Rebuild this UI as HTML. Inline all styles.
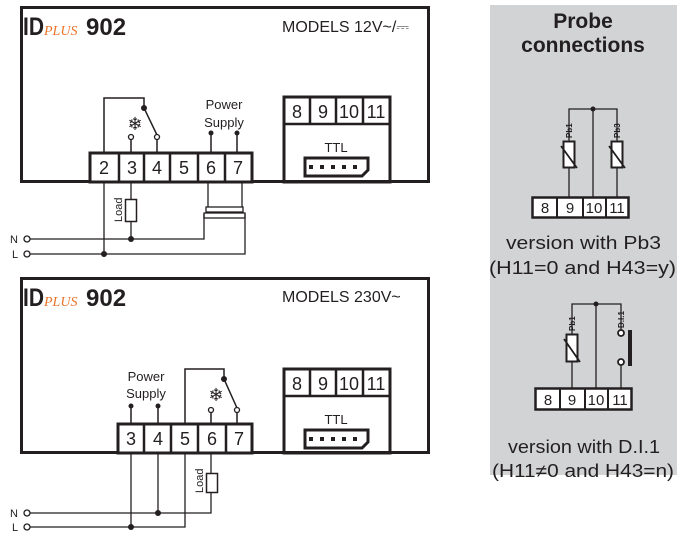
<!DOCTYPE html>
<html><head><style>
body{margin:0;background:#fff}
svg{display:block}
text{font-family:"Liberation Sans",sans-serif;fill:#231f20}
</style></head><body>
<svg width="696" height="541" viewBox="0 0 696 541" xmlns="http://www.w3.org/2000/svg">
<g stroke="#231f20" fill="none">
<rect x="21.5" y="7.5" width="407" height="174" stroke-width="3"/>
<rect x="90" y="153" width="162" height="29" stroke-width="3" fill="#fff"/>
<path d="M119 153V182M144 153V182M170 153V182M198 153V182M225 153V182" stroke-width="2.5"/>
<rect x="284" y="97" width="106" height="85" stroke-width="3"/>
<path d="M284 124H390M310 97V124M336 97V124M363 97V124" stroke-width="2.5"/>
<path d="M305 158H368V170L362 176H305Z" stroke-width="3"/>
<path d="M104 152V98H144V108L157 135M131 152V139M157 152V139M211 152V133M237 152V133" stroke-width="1.5"/>
<circle cx="131" cy="137" r="2.5" stroke-width="1.3" fill="#fff"/>
<circle cx="157" cy="137" r="2.5" stroke-width="1.3" fill="#fff"/>
<path d="M104 182V254M131 182V199M131 222V239M25 239H204V214M25 254H245V214M208 182V207M242 182V207" stroke-width="1.3"/>
<rect x="125.5" y="199.5" width="11" height="22" stroke-width="1.5"/>
<rect x="206" y="207" width="37" height="5" stroke-width="1.3"/>
<rect x="204" y="213" width="41" height="5" stroke-width="1.3"/>
<circle cx="27" cy="239" r="3" stroke-width="1.3" fill="#fff"/>
<circle cx="27" cy="254" r="3" stroke-width="1.3" fill="#fff"/>
<rect x="21.5" y="278.5" width="407" height="174" stroke-width="3"/>
<rect x="118" y="424" width="134" height="29" stroke-width="3" fill="#fff"/>
<path d="M144 424V453M171 424V453M198 424V453M226 424V453" stroke-width="2.5"/>
<rect x="284" y="369" width="106" height="84" stroke-width="3"/>
<path d="M284 396H390M310 369V396M336 369V396M363 369V396" stroke-width="2.5"/>
<path d="M305 430H368V442L362 448H305Z" stroke-width="3"/>
<path d="M185 424V369H224V379L237 408M211 424V412M237 424V412M131 424V406M158 424V406" stroke-width="1.5"/>
<circle cx="211" cy="410" r="2.5" stroke-width="1.3" fill="#fff"/>
<circle cx="237" cy="410" r="2.5" stroke-width="1.3" fill="#fff"/>
<path d="M131 453V527M158 453V513M185 453V527H25M211 453V473M211 492V513H25" stroke-width="1.3"/>
<rect x="206.5" y="473.5" width="11" height="19" stroke-width="1.5"/>
<circle cx="27" cy="513" r="3" stroke-width="1.3" fill="#fff"/>
<circle cx="27" cy="527" r="3" stroke-width="1.3" fill="#fff"/>
</g>
<g fill="#231f20">
<circle cx="144" cy="108" r="3"/><circle cx="211" cy="133" r="2.5"/><circle cx="237" cy="133" r="2.5"/>
<circle cx="131" cy="239" r="3"/><circle cx="104" cy="254" r="3"/>
<circle cx="224" cy="379" r="3"/><circle cx="131" cy="406" r="2.5"/><circle cx="158" cy="406" r="2.5"/>
<circle cx="158" cy="513" r="3"/><circle cx="131" cy="527" r="3"/>
<rect x="309" y="165" width="4" height="4"/><rect x="320" y="165" width="4" height="4"/><rect x="331" y="165" width="4" height="4"/><rect x="342" y="165" width="4" height="4"/><rect x="353" y="165" width="4" height="4"/>
<rect x="309" y="437" width="4" height="4"/><rect x="320" y="437" width="4" height="4"/><rect x="331" y="437" width="4" height="4"/><rect x="342" y="437" width="4" height="4"/><rect x="353" y="437" width="4" height="4"/>
</g>
<text x="23" y="35" font-size="25" font-weight="bold" textLength="21" lengthAdjust="spacingAndGlyphs">ID</text>
<text x="44" y="35" font-size="14" font-style="italic" style="fill:#e8742a;font-family:'Liberation Serif',serif">PLUS</text>
<text x="86" y="35" font-size="24" font-weight="bold">902</text>
<text x="282" y="32" font-size="16">MODELS 12V~/⎓</text>
<g font-size="18" text-anchor="middle">
<text x="104" y="174">2</text><text x="132" y="174">3</text><text x="157" y="174">4</text><text x="184" y="174">5</text><text x="211" y="174">6</text><text x="238" y="174">7</text>
<text x="297" y="118">8</text><text x="323" y="118">9</text><text x="349" y="118">10</text><text x="376" y="118">11</text>
<text x="131" y="445">3</text><text x="158" y="445">4</text><text x="185" y="445">5</text><text x="212" y="445">6</text><text x="239" y="445">7</text>
<text x="297" y="390">8</text><text x="323" y="390">9</text><text x="349" y="390">10</text><text x="376" y="390">11</text>
</g>
<g font-size="13" text-anchor="middle">
<text x="224" y="109">Power</text><text x="224" y="127">Supply</text>
<text x="146" y="381">Power</text><text x="146" y="398">Supply</text>
<text x="336" y="152">TTL</text><text x="336" y="424">TTL</text>
</g>
<text x="135" y="130" font-size="18" text-anchor="middle">❄</text>
<text x="216" y="401" font-size="18" text-anchor="middle">❄</text>
<text transform="translate(122,222) rotate(-90)" font-size="11">Load</text>
<text transform="translate(203,493) rotate(-90)" font-size="11">Load</text>
<g font-size="11"><text x="10" y="243">N</text><text x="12" y="258">L</text><text x="10" y="517">N</text><text x="12" y="531">L</text></g>
<text x="23" y="306" font-size="25" font-weight="bold" textLength="21" lengthAdjust="spacingAndGlyphs">ID</text>
<text x="44" y="306" font-size="14" font-style="italic" style="fill:#e8742a;font-family:'Liberation Serif',serif">PLUS</text>
<text x="86" y="306" font-size="24" font-weight="bold">902</text>
<text x="282" y="302" font-size="16">MODELS 230V~</text>
<rect x="490" y="5" width="187" height="470" fill="#d1d3d4"/>
<g font-size="21" font-weight="bold" text-anchor="middle"><text x="583" y="28">Probe</text><text x="583" y="52">connections</text></g>
<g stroke="#231f20" fill="none" stroke-width="1.3">
<path d="M569 197V167M569 141V109H617V141M617 167V197M593 109V197"/>
<rect x="563.5" y="141.5" width="11" height="26" fill="#fff" stroke-width="2"/>
<rect x="611.5" y="141.5" width="11" height="26" fill="#fff" stroke-width="2"/>
<path d="M561 146L577 168M609 146L625 168" stroke-width="1.8"/>
<rect x="532.5" y="197.5" width="96" height="20" fill="#fff" stroke-width="2.5"/>
<path d="M557 197V217M583 197V217M606 197V217" stroke-width="2"/>
<path d="M572 388V362M572 334V304H621V330M621 365V388M596 304V388"/>
<rect x="566.5" y="334.5" width="11" height="27" fill="#fff" stroke-width="2"/>
<path d="M564 339L580 362" stroke-width="1.8"/>
<circle cx="621" cy="333" r="3" fill="#fff" stroke-width="1.8"/>
<circle cx="621" cy="362" r="3" fill="#fff" stroke-width="1.8"/>
<rect x="535.5" y="388.5" width="96" height="21" fill="#fff" stroke-width="2.5"/>
<path d="M560 388V410M585 388V410M608 388V410" stroke-width="2"/>
</g>
<rect x="628" y="330" width="4" height="36" fill="#231f20"/>
<circle cx="593" cy="109" r="2.5" fill="#231f20"/><circle cx="596" cy="304" r="2.5" fill="#231f20"/>
<g font-size="8" font-weight="bold">
<text transform="translate(572,138) rotate(-90)">Pb1</text>
<text transform="translate(620,138) rotate(-90)">Pb3</text>
<text transform="translate(575,331) rotate(-90)">Pb1</text>
<text transform="translate(624,328) rotate(-90)">D.I.1</text>
</g>
<g font-size="15" text-anchor="middle">
<text x="545" y="213">8</text><text x="570" y="213">9</text><text x="594" y="213">10</text><text x="617" y="213">11</text>
<text x="548" y="405">8</text><text x="572" y="405">9</text><text x="596" y="405">10</text><text x="620" y="405">11</text>
</g>
<g font-size="18">
<text x="506" y="249" textLength="155" lengthAdjust="spacingAndGlyphs">version with Pb3</text>
<text x="489" y="274" textLength="187" lengthAdjust="spacingAndGlyphs">(H11=0 and H43=y)</text>
<text x="508" y="453" textLength="152" lengthAdjust="spacingAndGlyphs">version with D.I.1</text>
<text x="492" y="477" textLength="182" lengthAdjust="spacingAndGlyphs">(H11≠0 and H43=n)</text>
</g>
</svg>
</body></html>
